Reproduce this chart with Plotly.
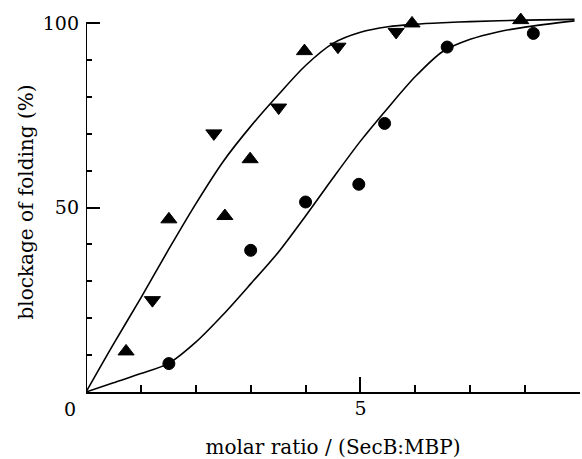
import plotly.graph_objects as go

# Measured blockage of folding at each SecB:MBP molar ratio
tri_up_x = [0.73, 1.51, 2.53, 2.99, 3.98, 5.94, 7.92]
tri_up_y = [11.0, 46.8, 47.7, 63.1, 92.4, 99.9, 100.8]

tri_down_x = [1.21, 2.33, 3.51, 4.59, 5.65]
tri_down_y = [24.9, 70.1, 77.1, 93.6, 97.6]

circle_x = [1.51, 3.00, 4.00, 4.97, 5.44, 6.58, 8.15]
circle_y = [7.7, 38.4, 51.5, 56.3, 72.8, 93.5, 97.2]

# Fitted curves, sampled along their traces
fit_fast_x = [0, 0.5, 1.0, 1.5, 2.0, 2.5, 3.0, 3.5, 4.0, 4.5, 5.0, 5.5, 6.0, 6.5, 7.0, 8.0, 8.9]
fit_fast_y = [0, 13.0, 25.5, 38.5, 51.0, 62.5, 72.0, 80.5, 88.5, 94.5, 97.5, 99.0, 99.7, 100.1, 100.4, 100.8, 101.0]

fit_slow_x = [0, 0.5, 1.0, 1.5, 2.0, 2.5, 3.0, 3.5, 4.0, 4.5, 5.0, 5.5, 6.0, 6.5, 7.0, 7.5, 8.0, 8.9]
fit_slow_y = [0, 2.5, 5.0, 7.7, 13.5, 21.0, 29.3, 37.8, 47.7, 58.0, 68.0, 77.0, 85.5, 92.3, 95.6, 97.6, 98.9, 100.6]

x_tick_vals = [0, 5, 9]
x_tick_text = ["", "5", ""]
y_tick_vals = [0, 50, 100]
y_tick_text = ["", "50", "100"]

FONT = "DejaVu Serif"
INK = "black"
TICK_SIZE = 19
TITLE_SIZE = 20

fig = go.Figure()

for fx, fy in [(fit_fast_x, fit_fast_y), (fit_slow_x, fit_slow_y)]:
    fig.add_trace(go.Scatter(
        x=fx, y=fy, mode="lines",
        line=dict(color=INK, width=1.6, shape="spline", smoothing=0.8),
        hoverinfo="skip", showlegend=False,
    ))

for mx, my, sym, sz in [
    (tri_up_x, tri_up_y, "triangle-up", 14),
    (tri_down_x, tri_down_y, "triangle-down", 14),
    (circle_x, circle_y, "circle", 12),
]:
    fig.add_trace(go.Scatter(
        x=mx, y=my, mode="markers", cliponaxis=False,
        marker=dict(symbol=sym, size=sz, color=INK, line=dict(color=INK, width=1)),
        showlegend=False,
    ))

# Left axis line stops at 100
fig.add_shape(type="line", xref="x", yref="y", x0=0, x1=0, y0=0, y1=100,
              line=dict(color=INK, width=2))

# Shared origin label
fig.add_annotation(x=0, y=0, xref="x", yref="y", text="0", showarrow=False,
                   xshift=-16, yshift=-17, font=dict(family=FONT, size=TICK_SIZE, color=INK))

fig.update_layout(
    width=582, height=459,
    margin=dict(l=86, r=2, t=12, b=67),
    paper_bgcolor="white", plot_bgcolor="white",
    font=dict(family=FONT, color=INK, size=TICK_SIZE),
    xaxis=dict(
        range=[0, 9], showgrid=False, zeroline=False,
        showline=True, linecolor=INK, linewidth=2,
        tickmode="array", tickvals=x_tick_vals, ticktext=x_tick_text,
        ticks="inside", ticklen=15, tickwidth=1.5, tickcolor=INK,
        minor=dict(ticks="inside", dtick=1, ticklen=7, tickwidth=1.5, tickcolor=INK),
        tickfont=dict(family=FONT, size=TICK_SIZE, color=INK),
        ticklabelstandoff=-2,
        title=dict(text="molar ratio / (SecB:MBP)", standoff=24,
                   font=dict(family=FONT, size=TITLE_SIZE, color=INK)),
    ),
    yaxis=dict(
        range=[0, 103], showgrid=False, zeroline=False, showline=False,
        tickmode="array", tickvals=y_tick_vals, ticktext=y_tick_text,
        ticks="inside", ticklen=14, tickwidth=1.5, tickcolor=INK,
        minor=dict(ticks="inside", dtick=10, ticklen=6, tickwidth=1.5, tickcolor=INK),
        tickfont=dict(family=FONT, size=TICK_SIZE, color=INK),
        ticklabelstandoff=6,
        title=dict(text="blockage of folding (%)", standoff=3,
                   font=dict(family=FONT, size=TITLE_SIZE, color=INK)),
    ),
)

fig.write_html("out.html")
